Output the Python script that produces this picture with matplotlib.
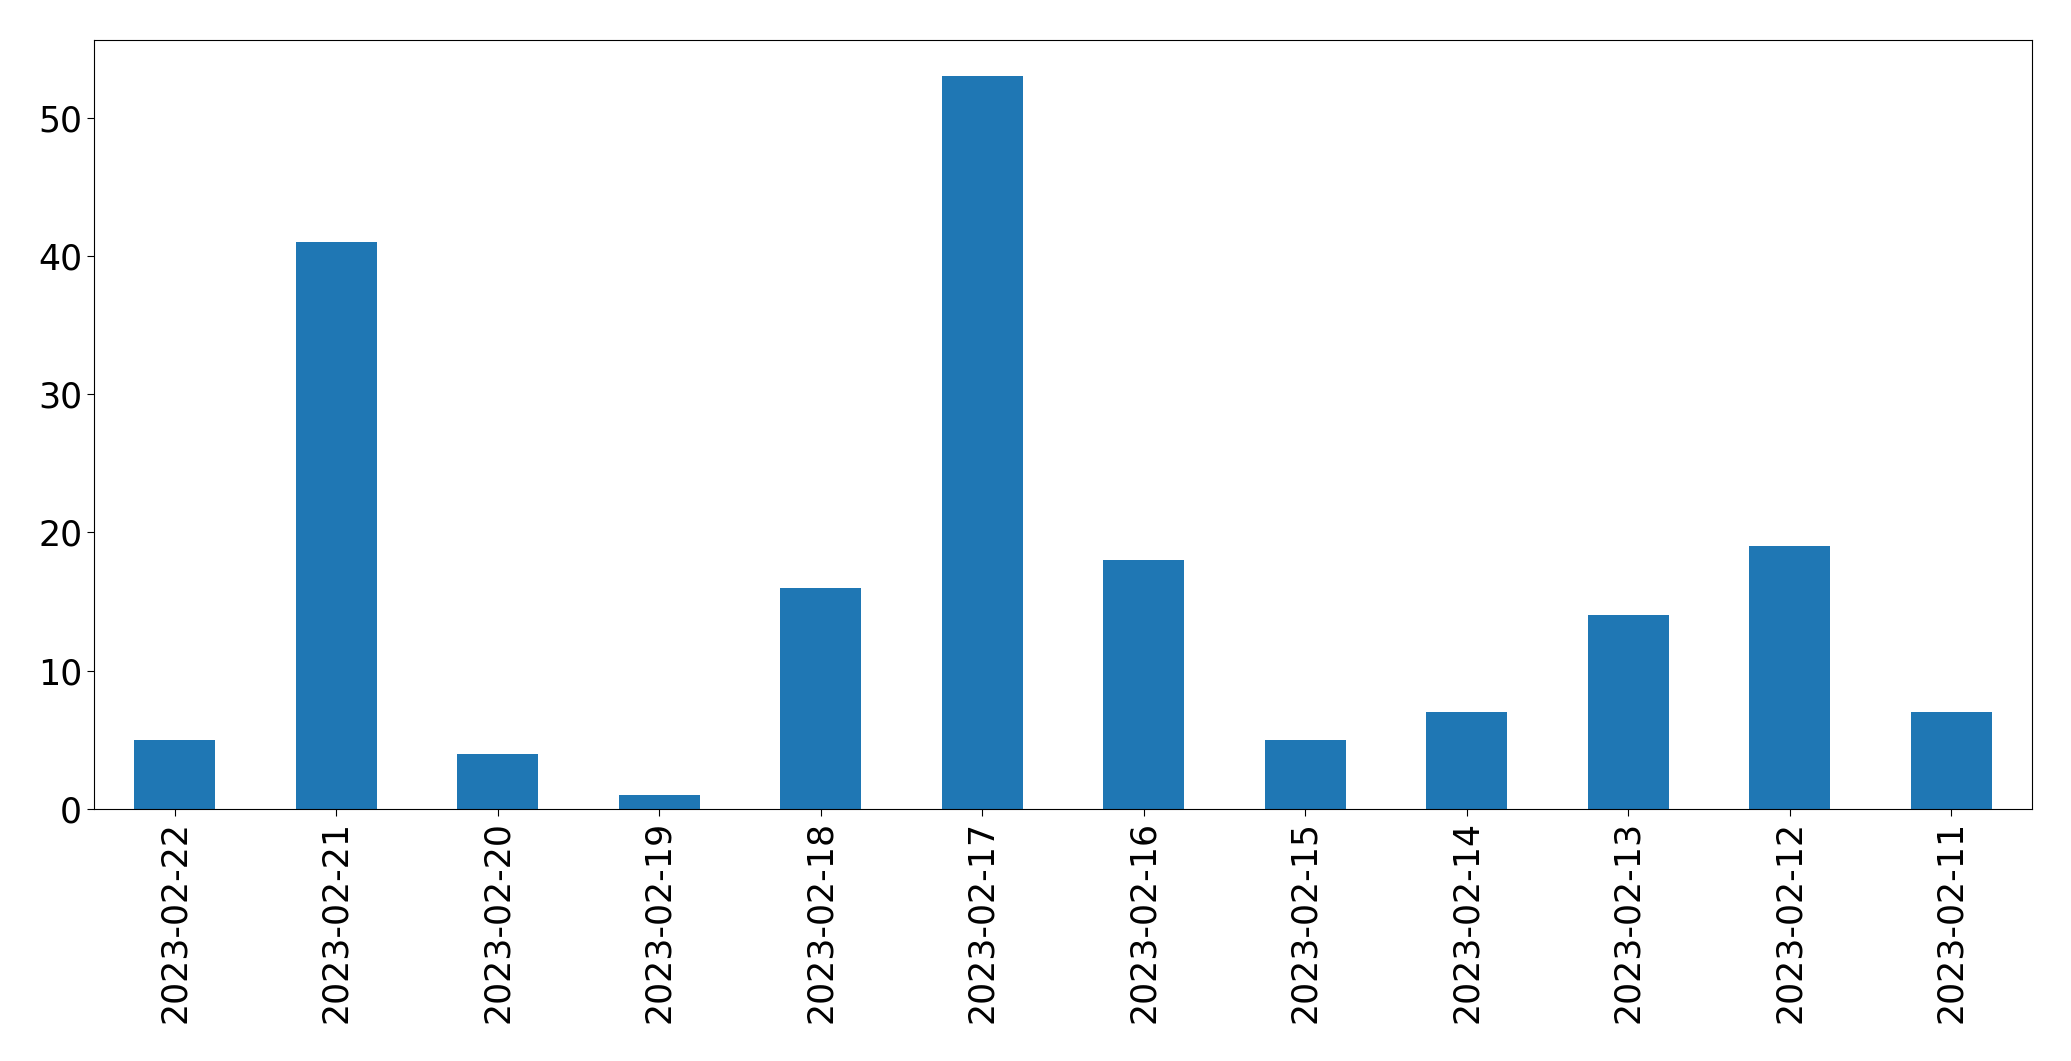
import matplotlib
matplotlib.use("Agg")
import matplotlib.pyplot as plt
import pandas as pd

# daily counts, newest first
dates = [
    "2023-02-22", "2023-02-21", "2023-02-20", "2023-02-19",
    "2023-02-18", "2023-02-17", "2023-02-16", "2023-02-15",
    "2023-02-14", "2023-02-13", "2023-02-12", "2023-02-11",
]
counts = [5, 41, 4, 1, 16, 53, 18, 5, 7, 14, 19, 7]

series = pd.Series(counts, index=dates)

fig = plt.figure(figsize=(20.71, 10.61), dpi=100)
ax = fig.add_axes([94 / 2071, 1 - 809 / 1061, (2032 - 94) / 2071, (809 - 39.5) / 1061])

series.plot.bar(ax=ax, color="#1f77b4", width=0.5)

ax.tick_params(axis="both", labelsize=25, length=5)
ax.set_xticklabels(dates, rotation=90)

fig.savefig("out.png", dpi=100)
